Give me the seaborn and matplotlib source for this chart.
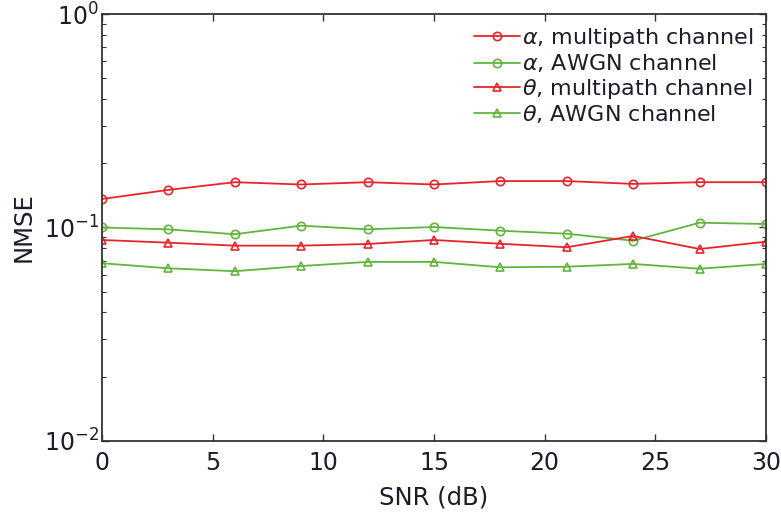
import matplotlib
matplotlib.use("Agg")
import matplotlib.pyplot as plt
import seaborn as sns
import numpy as np
from matplotlib.ticker import LogLocator, NullFormatter, MultipleLocator

snr = [0, 3, 6, 9, 12, 15, 18, 21, 24, 27, 30]
alpha_multipath = [0.136, 0.150, 0.163, 0.159, 0.163, 0.159, 0.165, 0.165, 0.160, 0.163, 0.163]
alpha_awgn = [0.100, 0.098, 0.093, 0.102, 0.098, 0.1005, 0.0966, 0.0935, 0.0867, 0.1053, 0.1038]
theta_multipath = [0.0874, 0.0849, 0.0822, 0.0822, 0.0837, 0.0874, 0.0839, 0.0808, 0.0913, 0.0793, 0.0858]
theta_awgn = [0.0680, 0.0644, 0.0624, 0.0660, 0.0690, 0.0690, 0.0651, 0.0655, 0.0675, 0.0641, 0.0675]
labels = [r'$\alpha$, multipath channel', r'$\alpha$, AWGN channel',
          r'$\theta$, multipath channel', r'$\theta$, AWGN channel']

sns.set_theme(style="ticks")
plt.rcParams['font.family'] = ['DejaVu Sans']
plt.rcParams['mathtext.fontset'] = 'dejavusans'
plt.rcParams['text.color'] = '#1c1c2a'
plt.rcParams['axes.labelcolor'] = '#1c1c2a'

red = '#e8232b'
green = '#62b53c'
series = [(alpha_multipath, red, 'o'), (alpha_awgn, green, 'o'),
          (theta_multipath, red, '^'), (theta_awgn, green, '^')]

fig = plt.figure(figsize=(7.81, 5.13), dpi=100)
ax = fig.add_axes([0.1306, 0.1404, 0.8502, 0.8323])

for (vals, col, mk), lab in zip(series, labels):
    sns.lineplot(x=snr, y=vals, ax=ax, color=col, marker=mk, markersize=6,
                 markerfacecolor='none', markeredgecolor=col, markeredgewidth=1.2,
                 linewidth=1.3, label=lab)

ax.set_yscale('log')
ax.set_xlim(0, 30)
ax.set_ylim(1e-2, 1e0)
ax.xaxis.set_major_locator(MultipleLocator(5))
ax.yaxis.set_major_locator(LogLocator(base=10, numticks=10))
ax.yaxis.set_minor_locator(LogLocator(base=10, subs=np.arange(2, 10), numticks=10))
ax.yaxis.set_minor_formatter(NullFormatter())
ax.tick_params(which='both', direction='in', top=True, right=True, labelsize=17,
               colors='#333333', labelcolor='#1c1c2a')
ax.tick_params(which='major', length=5, width=1)
ax.tick_params(which='minor', length=3, width=0.8)
ax.tick_params(axis='x', pad=7)
ax.tick_params(axis='y', pad=2)
for s in ax.spines.values():
    s.set_color('#333333')
    s.set_linewidth(1.3)

ax.set_xlabel('SNR (dB)', fontsize=17.5, labelpad=8)
ax.set_ylabel('NMSE', fontsize=17.5, labelpad=6)

leg = ax.legend(loc='upper right', frameon=False, fontsize=16, handlelength=2.1,
                handletextpad=0.1, labelspacing=0.1, borderaxespad=0.15)

fig.savefig('out.png', dpi=100)
